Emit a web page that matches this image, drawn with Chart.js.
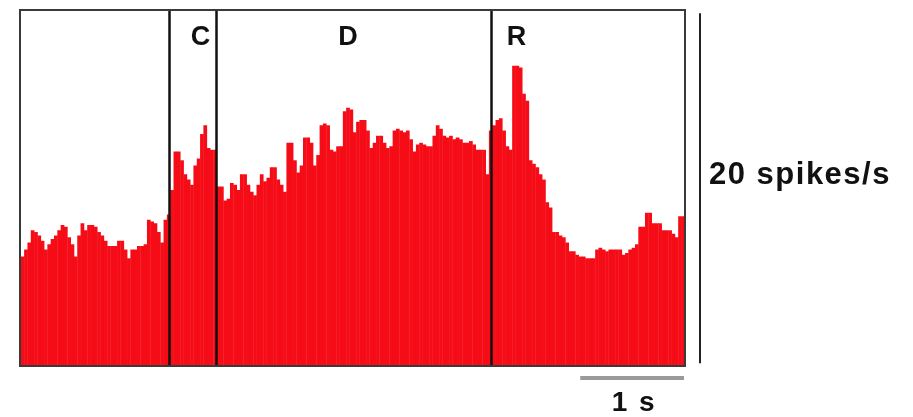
<!DOCTYPE html>
<html>
<head>
<meta charset="utf-8">
<script src="https://cdn.jsdelivr.net/npm/chart.js@4/dist/chart.umd.min.js"></script>
<style>
  html, body { margin: 0; padding: 0; background: #fff; }
  canvas { display: block; }
</style>
</head>
<body>
<canvas id="psth" width="913" height="417"></canvas>
<script>
// Firing rate (spikes/s) per 32 ms bin, split by task epoch.
const baselineRates = [
  6.2, 6.6, 7.0, 7.7, 7.6, 7.4, 7.1, 6.6, 6.9, 7.2,
  7.4, 7.7, 8.0, 7.9, 7.3, 6.9, 6.2, 7.4, 8.1, 7.7,
  8.0, 8.0, 7.9, 7.6, 7.4, 7.1, 6.8, 6.8, 6.8, 7.1,
  7.1, 6.6, 6.1, 6.6, 6.6, 6.8, 6.8, 6.9, 8.3, 8.2,
  8.1, 7.6, 7.0, 8.3, 8.6
];
const cueRates = [
  10.0, 12.2, 12.2, 11.7, 10.9, 10.6, 10.3, 11.4, 11.8, 13.2,
  13.7, 12.4, 12.3, 12.3
];
const delayRates = [
  10.2, 10.2, 9.4, 9.5, 10.4, 10.3, 10.0, 10.9, 10.9, 10.3,
  9.9, 9.7, 10.3, 10.9, 10.5, 10.7, 11.3, 11.3, 10.6, 10.3,
  9.9, 12.7, 12.7, 11.7, 11.0, 11.4, 13.0, 13.0, 12.7, 11.4,
  12.0, 13.7, 13.8, 13.7, 12.3, 12.2, 12.5, 12.5, 14.5, 14.7,
  14.6, 13.3, 13.9, 14.0, 14.0, 13.4, 12.4, 12.7, 13.1, 13.1,
  12.7, 12.4, 12.5, 13.4, 13.5, 13.4, 13.3, 13.4, 12.9, 12.2,
  12.6, 12.7, 12.6, 12.5, 12.5, 13.1, 13.7, 13.5, 13.1, 13.0,
  13.1, 12.9, 13.0, 12.9, 12.7, 12.7, 12.8, 12.6, 12.3, 12.3,
  12.3, 10.9, 13.4
];
const responseRates = [
  13.7, 14.0, 14.1, 13.4, 12.5, 12.3, 17.1, 17.1, 17.0, 15.5,
  15.1, 11.7, 11.5, 11.3, 10.9, 10.6, 9.3, 9.0, 7.6, 7.6,
  7.4, 7.3, 7.0, 6.5, 6.5, 6.3, 6.2, 6.2, 6.1, 6.1,
  6.1, 6.6, 6.7, 6.6, 6.5, 6.6, 6.6, 6.6, 6.6, 6.3,
  6.4, 6.6, 6.7, 6.9, 7.9, 7.9, 8.7, 8.7, 8.1, 8.1,
  8.1, 7.7, 7.7, 7.7, 7.5, 7.3, 8.5, 8.5
];

const epochLabels = ['C', 'D', 'R'];
const binMs = 32;
const rateScaleBar = 20;      // spikes/s
const timeScaleBar = 1;       // s
const rateLabel = '20 spikes/s';
const timeLabel = '1 s';

const rates = [].concat(baselineRates, cueRates, delayRates, responseRates);
const binIndex = rates.map((_, i) => i);

// Bin index where each epoch (C, D, R) begins.
const epochStarts = [
  baselineRates.length,
  baselineRates.length + cueRates.length,
  baselineRates.length + cueRates.length + delayRates.length
];

const BAR_RED = 'rgb(245,12,22)';
const FONT = '"Liberation Sans", Arial, Helvetica, sans-serif';

const decorations = {
  id: 'decorations',
  afterDatasetsDraw(chart) {
    const { ctx, chartArea: a, scales: { x, y } } = chart;
    const step = x.getPixelForValue(1) - x.getPixelForValue(0);
    const edge = i => x.getPixelForValue(i) - step / 2;

    ctx.save();

    // Epoch boundaries
    ctx.strokeStyle = '#111';
    ctx.lineWidth = 2.5;
    epochStarts.forEach(i => {
      const px = Math.round(edge(i)) - 0.5;
      ctx.beginPath();
      ctx.moveTo(px, a.top);
      ctx.lineTo(px, a.bottom);
      ctx.stroke();
    });

    // Frame
    ctx.strokeStyle = '#3a3a3a';
    ctx.lineWidth = 2;
    ctx.strokeRect(a.left - 1, a.top, a.right - a.left + 1, a.bottom - a.top + 1);

    // Epoch labels
    ctx.fillStyle = '#111';
    ctx.font = 'bold 27px ' + FONT;
    ctx.textAlign = 'center';
    ctx.textBaseline = 'alphabetic';
    const labelX = [
      edge(epochStarts[0]) + 30,
      edge(epochStarts[1]) + 131,
      edge(epochStarts[2]) + 24
    ];
    epochLabels.forEach((t, k) => ctx.fillText(t, labelX[k], 45));

    // Vertical rate scale bar
    const barX = a.right + 15;
    ctx.strokeStyle = '#222';
    ctx.lineWidth = 2;
    ctx.beginPath();
    ctx.moveTo(barX, y.getPixelForValue(0.1));
    ctx.lineTo(barX, y.getPixelForValue(0.1 + rateScaleBar));
    ctx.stroke();
    ctx.textAlign = 'left';
    ctx.font = 'bold 31px ' + FONT;
    ctx.letterSpacing = '1.5px';
    ctx.fillText(rateLabel, barX + 9, 184);

    // Horizontal time scale bar
    const bins = timeScaleBar * 1000 / binMs;
    const tx1 = a.right - 1;
    const tx0 = tx1 - bins * step;
    ctx.strokeStyle = '#9a9a9a';
    ctx.lineWidth = 4;
    ctx.beginPath();
    ctx.moveTo(tx0, a.bottom + 13);
    ctx.lineTo(tx1, a.bottom + 13);
    ctx.stroke();
    ctx.textAlign = 'center';
    ctx.fillStyle = '#111';
    ctx.font = 'bold 28px ' + FONT;
    ctx.letterSpacing = '2px';
    ctx.fillText(timeLabel, (tx0 + tx1) / 2 + 2, 411);

    ctx.restore();
  }
};

new Chart(document.getElementById('psth'), {
  type: 'bar',
  data: {
    labels: binIndex,
    datasets: [{
      data: rates,
      backgroundColor: BAR_RED,
      borderWidth: 0,
      categoryPercentage: 1,
      barPercentage: 1.12
    }]
  },
  options: {
    responsive: false,
    animation: false,
    layout: { padding: { left: 21, right: 228, top: 10, bottom: 52 } },
    plugins: { legend: { display: false }, tooltip: { enabled: false } },
    scales: {
      x: { display: false },
      y: { display: false, min: 0, max: 20.29 }
    }
  },
  plugins: [decorations]
});
</script>
</body>
</html>
